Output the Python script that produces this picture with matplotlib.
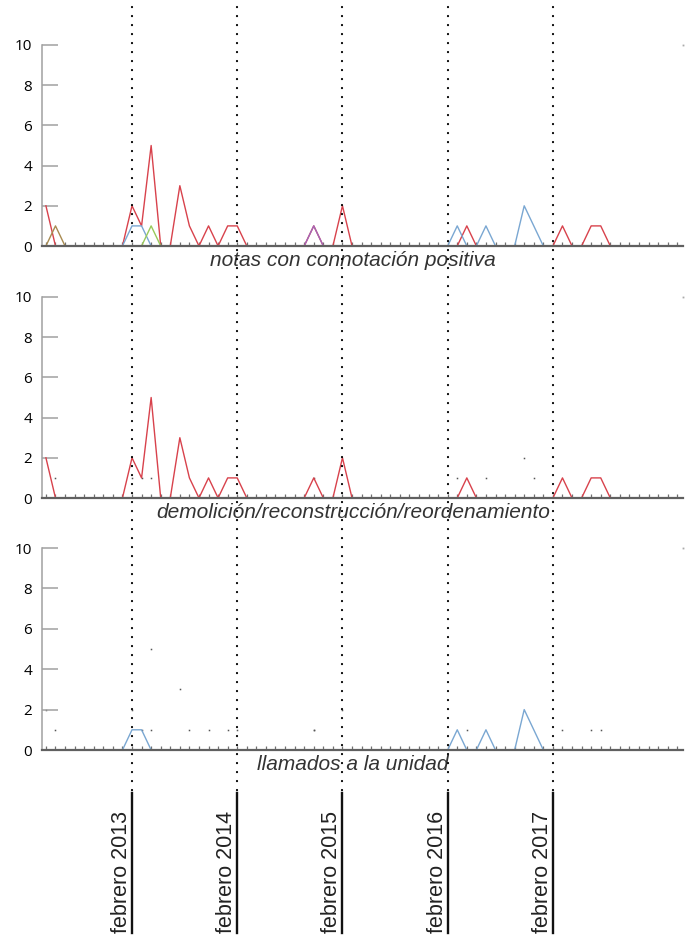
import matplotlib
matplotlib.use('Agg')
import matplotlib.pyplot as plt
from matplotlib.lines import Line2D
from matplotlib.transforms import blended_transform_factory

# monthly counts, 67 points (11 per year in the source)
red = [2, 0, 0, 0, 0, 0, 0, 0, 0, 2, 1,
       5, 0, 0, 3, 1, 0, 1, 0, 1, 1, 0,
       0, 0, 0, 0, 0, 0, 1, 0, 0, 2, 0,
       0, 0, 0, 0, 0, 0, 0, 0, 0, 0, 0,
       1, 0, 0, 0, 0, 0, 0, 0, 0, 0, 1,
       0, 0, 1, 1, 0, 0, 0, 0, 0, 0, 0,
       0]
blue = [0, 0, 0, 0, 0, 0, 0, 0, 0, 1, 1,
        0, 0, 0, 0, 0, 0, 0, 0, 0, 0, 0,
        0, 0, 0, 0, 0, 0, 0, 0, 0, 0, 0,
        0, 0, 0, 0, 0, 0, 0, 0, 0, 0, 1,
        0, 0, 1, 0, 0, 0, 2, 1, 0, 0, 0,
        0, 0, 0, 0, 0, 0, 0, 0, 0, 0, 0,
        0]
green = [0] * 11 + [1] + [0] * 55
olive = [0, 1] + [0] * 65
purple = [0] * 28 + [1] + [0] * 38

series_colors = {'red': '#d8424c', 'blue': '#7aa7d2', 'green': '#98c95a',
                 'olive': '#a88a50', 'purple': '#a466b8'}
series = {'red': red, 'blue': blue, 'green': green, 'olive': olive, 'purple': purple}

titles = ['notas con connotación positiva',
          'demolición/reconstrucción/reordenamiento',
          'llamados a la unidad']
panel_lines = [['red', 'blue', 'green', 'olive', 'purple'], ['red'], ['blue']]

year_idx = [9, 20, 31, 42, 53]
year_labels = ['febrero 2013', 'febrero 2014', 'febrero 2015', 'febrero 2016', 'febrero 2017']

W, H = 686, 936
fig = plt.figure(figsize=(W / 100, H / 100), dpi=100)

x = list(range(len(red)))
ax_left, ax_right = 42, 683
panel_px = [(45, 246), (297, 498), (548, 750)]
axes = []

for k, (top, bottom) in enumerate(panel_px):
    ax = fig.add_axes([ax_left / W, 1 - bottom / H, (ax_right - ax_left) / W, (bottom - top) / H])
    axes.append(ax)
    for name in panel_lines[k]:
        ax.plot(x, series[name], color=series_colors[name], lw=1.0, zorder=2)
    # other series only leave tiny dots at their non-zero values
    for name in series:
        if name in panel_lines[k]:
            continue
        px = [i for i, v in zip(x, series[name]) if v > 0]
        py = [v for v in series[name] if v > 0]
        ax.plot(px, py, ls='none', marker='s', ms=1.1, mew=0, color='#555555', zorder=1)
    ax.plot([1.0], [1.0], ls='none', marker='s', ms=1.3, mew=0, color='#aaaaaa',
            transform=ax.transAxes, clip_on=False)

    ax.set_xlim(-0.41, 66.6)
    ax.set_ylim(0, 10)
    for side in ['top', 'right']:
        ax.spines[side].set_visible(False)
    ax.spines['left'].set_color('#a0a0a0')
    ax.spines['left'].set_linewidth(1.1)
    ax.spines['bottom'].set_color('#606060')
    ax.spines['bottom'].set_linewidth(1.6)
    ax.set_xticks(x)
    ax.set_xticklabels([])
    ax.tick_params(axis='x', direction='in', length=2.8, width=0.9, color='#707070')
    ax.set_yticks([0, 2, 4, 6, 8, 10])
    ax.tick_params(axis='y', direction='in', length=11.5, width=1.1, color='#a0a0a0',
                   pad=7, labelsize=11)
    for lab in ax.get_yticklabels():
        lab.set_family('Open Sans')
    ax.patch.set_alpha(0)

    fig.text(353 / W, 1 - (bottom + 14) / H, titles[k], ha='center', va='center',
             fontsize=15, style='italic', family='Liberation Sans', color='#333333')

# year markers: dotted through the panels, solid under them with the label
trans = blended_transform_factory(axes[0].transData, fig.transFigure)
for i, lab in zip(year_idx, year_labels):
    fig.add_artist(Line2D([i, i], [1 - 7 / H, 1 - 792 / H], transform=trans, color='black',
                          lw=1.6, linestyle=(0, (0.05, 4.0)), dash_capstyle='round', zorder=5))
    fig.add_artist(Line2D([i, i], [1 - 793 / H, 1 - 933 / H], transform=trans, color='#111111',
                          lw=1.7, zorder=5))
    fig.text(i, 1 - 933 / H, lab, transform=trans, rotation=90, ha='right', va='bottom',
             fontsize=15.5, family='Liberation Sans', color='#222222')

fig.savefig('out.png', dpi=100)
